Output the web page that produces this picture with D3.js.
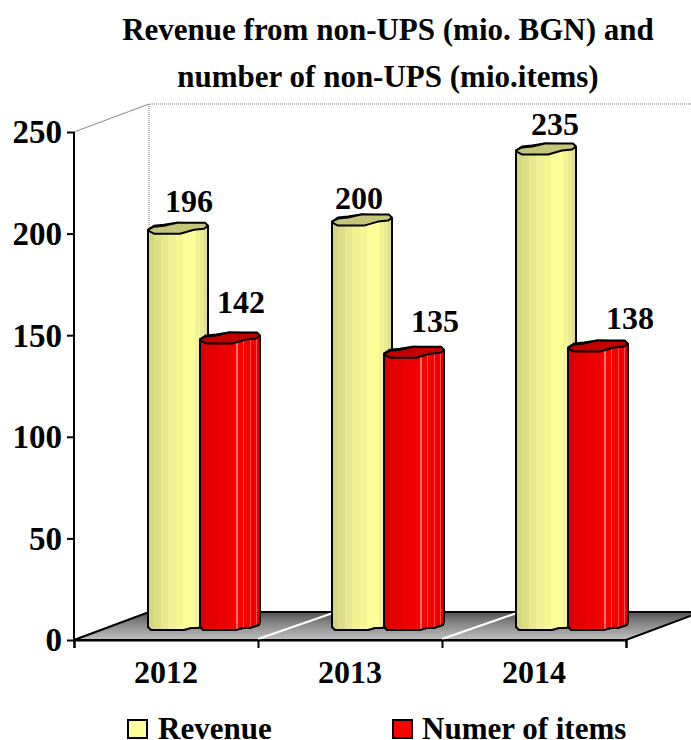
<!DOCTYPE html>
<html>
<head>
<meta charset="utf-8">
<script src="https://cdnjs.cloudflare.com/ajax/libs/d3/7.8.5/d3.min.js"></script>
<style>
  html, body { margin: 0; padding: 0; background: #fff; overflow: hidden; }
  svg { display: block; }
  text { font-family: "Liberation Serif", serif; font-weight: bold; fill: #000; }
</style>
</head>
<body>
<svg id="chart" width="691" height="740"></svg>
<script>
// Chart values
const years = ["2012", "2013", "2014"];
const seriesNames = ["Revenue", "Numer of items"];
const revenue = [196, 200, 235];
const items = [142, 135, 138];
const yTicks = [0, 50, 100, 150, 200, 250];
const titleLines = ["Revenue from non-UPS (mio. BGN) and", "number of non-UPS (mio.items)"];

// Layout of the plot box and its oblique depth
const W = 691, H = 740;
const plot = { left: 74, right: 626, top: 132, bottom: 640 };
const depth = { dx: 75, dy: -28 };
const baseLift = 10;       // column feet stand part-way into the floor
const capLift = 19;        // the back rim of a column's cap sits further up
const columnWidth = 60;
const seriesOffset = [74, 126];

// Per-column nudges for the value labels, relative to the column's left edge and cap top
const labelNudge = [
  [[41, -11], [27, -6], [39, -8]],
  [[41, -19], [51, -15], [62, -12]]
];

const svg = d3.select("#chart");
const defs = svg.append("defs");

const y = d3.scaleLinear().domain([0, 250]).range([plot.bottom, plot.top]);
const x = d3.scaleBand().domain(years).range([plot.left, plot.right]);
const edge = d3.scaleLinear().domain([0, years.length]).range([plot.left, plot.right]);

// Banded fills that give the columns their faceted, rounded look
function stripes(id, bands) {
  const g = defs.append("linearGradient").attr("id", id);
  let pos = 0;
  bands.forEach(([w, c]) => {
    g.append("stop").attr("offset", pos).attr("stop-color", c);
    pos += w;
    g.append("stop").attr("offset", pos).attr("stop-color", c);
  });
}
stripes("yellowBody", [
  [0.10, "#d6d682"], [0.12, "#dfdf8a"], [0.12, "#e8e890"], [0.12, "#f0f094"], [0.12, "#f6f697"],
  [0.20, "#ffff99"], [0.08, "#f4f496"], [0.08, "#eaea90"], [0.06, "#e0e08a"]
]);
stripes("redBody", [
  [0.10, "#d80000"], [0.22, "#e40000"], [0.20, "#ee0000"], [0.08, "#f80000"], [0.03, "#ff7070"],
  [0.09, "#ff0000"], [0.02, "#ff6060"], [0.09, "#f60000"], [0.02, "#ff5050"], [0.08, "#f00000"],
  [0.02, "#ff5050"], [0.05, "#e40000"]
]);
const floorGrad = defs.append("linearGradient").attr("id", "floorFill")
  .attr("x1", 0).attr("x2", 0).attr("y1", 0).attr("y2", 1);
[[0, "#505050"], [0.35, "#808080"], [1, "#c0c0c0"]].forEach(([o, c]) =>
  floorGrad.append("stop").attr("offset", o).attr("stop-color", c));

const line = d3.line();

// Back walls: thin dotted outline
svg.append("path")
  .attr("d", line([
    [plot.left, plot.top],
    [plot.left + depth.dx, plot.top + depth.dy]
  ]))
  .attr("fill", "none").attr("stroke", "#888").attr("stroke-width", 1);
svg.append("path")
  .attr("d", line([
    [W + 10, plot.top + depth.dy],
    [plot.left + depth.dx, plot.top + depth.dy],
    [plot.left + depth.dx, plot.bottom + depth.dy]
  ]))
  .attr("fill", "none").attr("stroke", "#777").attr("stroke-width", 1).attr("stroke-dasharray", "1 1");

// Floor
svg.append("path")
  .attr("d", line([
    [plot.left, plot.bottom],
    [plot.left + depth.dx, plot.bottom + depth.dy],
    [plot.right + depth.dx, plot.bottom + depth.dy],
    [plot.right, plot.bottom]
  ]) + "Z")
  .attr("fill", "url(#floorFill)").attr("stroke", "#000").attr("stroke-width", 2);

// White separators running back from the inner category ticks
svg.append("g").selectAll("path")
  .data(d3.range(1, years.length))
  .join("path")
  .attr("d", i => line([[edge(i), plot.bottom - 1], [edge(i) + depth.dx, plot.bottom + depth.dy + 1]]))
  .attr("stroke", "#fff").attr("stroke-width", 2).attr("fill", "none");

// Column outline, offsets in px from the column's left edge and its cap top
function bodyPath(x0, top, base) {
  const w = columnWidth;
  return line([
    [x0, top + 7], [x0, base - 3], [x0 + 3, base], [x0 + 36, base], [x0 + 43, base - 2],
    [x0 + 50, base - 2], [x0 + w - 1, base - 5], [x0 + w, base - 8], [x0 + w, top + 4],
    [x0 + w - 3, top + 1], [x0 + 29, top], [x0 + 16, top + 2], [x0 + 6, top + 3]
  ]) + "Z";
}
function capPath(x0, top) {
  const w = columnWidth;
  return line([
    [x0, top + 7], [x0 + 6, top + 4], [x0 + 16, top + 3], [x0 + 29, top], [x0 + w - 3, top],
    [x0 + w, top + 3], [x0 + w - 4, top + 6], [x0 + w - 14, top + 7], [x0 + 32, top + 11],
    [x0 + 6, top + 11], [x0 + 2, top + 9]
  ]) + "Z";
}

const series = [
  { values: revenue, body: "url(#yellowBody)", cap: "#c6c67a" },
  { values: items, body: "url(#redBody)", cap: "#c20000" }
];

// Columns, drawn series by series within each category so the red one overlaps
const columns = svg.append("g");
years.forEach((yr, c) => {
  series.forEach((s, k) => {
    const x0 = x(yr) + seriesOffset[k];
    const base = y(0) - baseLift;
    const top = y(s.values[c]) - capLift;
    const g = columns.append("g");
    g.append("path").attr("d", bodyPath(x0, top, base))
      .attr("fill", s.body).attr("stroke", "#000").attr("stroke-width", 2).attr("stroke-linejoin", "round");
    g.append("path").attr("d", capPath(x0, top))
      .attr("fill", s.cap).attr("stroke", "#000").attr("stroke-width", 2).attr("stroke-linejoin", "round");
  });
});

// Value labels
years.forEach((yr, c) => {
  series.forEach((s, k) => {
    const x0 = x(yr) + seriesOffset[k];
    const top = y(s.values[c]) - capLift;
    const [nx, ny] = labelNudge[k][c];
    svg.append("text").attr("x", x0 + nx).attr("y", top + ny)
      .attr("text-anchor", "middle").attr("font-size", 32).text(s.values[c]);
  });
});

// Axes
const yAxis = svg.append("g").attr("transform", `translate(${plot.left},0)`)
  .call(d3.axisLeft(y).tickValues(yTicks).tickSize(7).tickPadding(5));
yAxis.selectAll("path, line").attr("stroke", "#000").attr("stroke-width", 2);
yAxis.select(".domain").attr("d", line([[0, plot.top], [0, plot.bottom]]));
yAxis.selectAll("text").attr("font-size", 33).attr("dy", "0.33em");
yAxis.attr("font-family", null);

const xTicks = svg.append("g").attr("transform", `translate(0,${plot.bottom})`)
  .call(d3.axisBottom(edge).tickValues(d3.range(0, years.length + 1)).tickSize(8).tickFormat(""));
xTicks.selectAll("path, line").attr("stroke", "#000").attr("stroke-width", 2);
xTicks.attr("font-family", null);

const xLabels = svg.append("g").attr("transform", `translate(0,${plot.bottom})`)
  .call(d3.axisBottom(x).tickSize(0).tickPadding(20));
xLabels.select(".domain").remove();
xLabels.selectAll("text").attr("font-size", 32).attr("dy", "0.71em");
xLabels.attr("font-family", null);

// Title
svg.append("g").selectAll("text")
  .data(titleLines)
  .join("text")
  .attr("x", 388).attr("y", (d, i) => 40 + i * 47)
  .attr("text-anchor", "middle").attr("font-size", 31).text(d => d);

// Legend
const legendX = [128, 393];
const legendFill = ["#ffff99", "#ff0000"];
const legendText = [158, 422];
const legend = svg.append("g").selectAll("g")
  .data(seriesNames)
  .join("g");
legend.append("rect")
  .attr("x", (d, i) => legendX[i]).attr("y", 720)
  .attr("width", 19).attr("height", 18)
  .attr("fill", (d, i) => legendFill[i]).attr("stroke", "#000").attr("stroke-width", 2);
legend.append("text")
  .attr("x", (d, i) => legendText[i]).attr("y", 739)
  .attr("font-size", 31).text(d => d);
</script>
</body>
</html>
